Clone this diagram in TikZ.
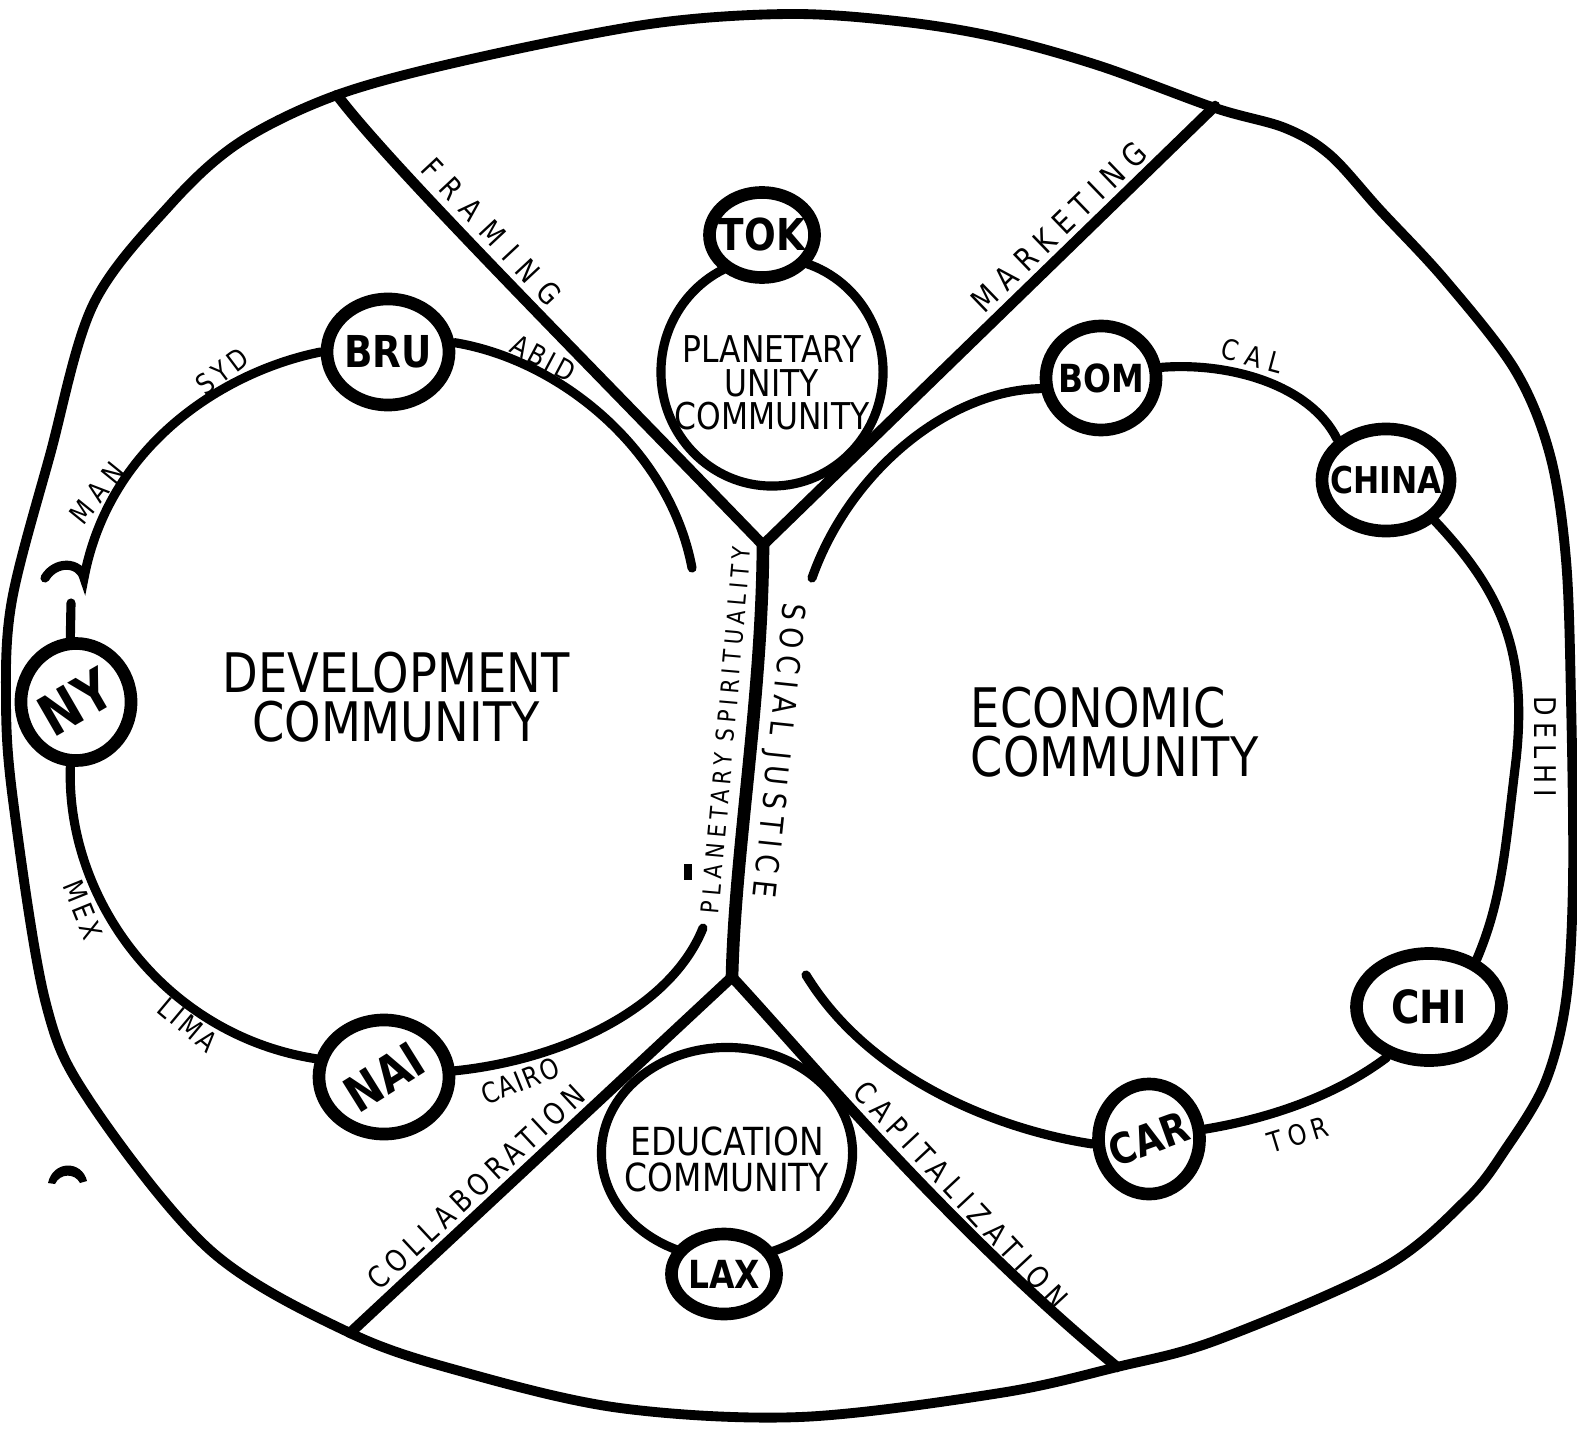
\documentclass[tikz,border=0pt]{standalone}
\usepackage{fontspec}
\setmainfont{DejaVu Sans}[FakeStretch=0.85]
\usetikzlibrary{shapes.geometric}

\begin{document}
\begin{tikzpicture}[
        x=0.01cm, y=-0.01cm,
        every node/.style={inner sep=0pt, align=center},
        city/.style={draw, ellipse, line width=3.6pt, fill=white},
        blob/.style={draw, ellipse, line width=2.6pt},
        cname/.style={font=\bfseries\fontsize{#1}{#1}\selectfont},
        commu/.style={font=\fontsize{15.5}{14}\selectfont},
        commsmall/.style={font=\fontsize{10.5}{9.6}\selectfont},
        lbl/.style 2 args={font=\fontsize{#1}{#1}\selectfont\addfontfeatures{LetterSpace=#2}},
        ring/.style={line width=2.6pt, line cap=round},
        wall/.style={line width=3pt, line cap=round, line join=round},
        trunk/.style={line width=3.6pt, line cap=round},
        rim/.style={line width=2.8pt}
    ]
    \useasboundingbox (0,0) rectangle (1577,1428);

    % outer rim
    \draw[rim] plot[smooth cycle, tension=0.55] coordinates {
        (790,14) (905,22) (1000,38) (1100,66) (1215,108) (1285,128) (1330,155)
        (1380,210) (1445,280) (1515,370) (1550,455) (1566,560) (1571,700)
        (1573,880) (1566,1000) (1545,1083) (1505,1150) (1466,1200) (1383,1268)
        (1217,1340) (1117,1367) (1000,1393) (800,1417) (620,1408) (467,1373)
        (350,1333) (210,1250) (89,1100) (45,1000) (13,800) (6,700) (12,600)
        (50,455) (93,305) (170,205) (240,142) (337,95) (467,60) (650,24)};

    % dividers
    \coordinate (framing) at (337,95);
    \coordinate (marketing) at (1215,106);
    \coordinate (collab) at (350,1333);
    \coordinate (capital) at (1117,1367);
    \coordinate (ytop) at (763,545);
    \coordinate (ybot) at (732,977);

    \draw[wall] (framing) .. controls (390,165) and (560,335) .. (ytop) -- (marketing);
    \draw[trunk] (ytop) .. controls (762,700) and (735,850) .. (ybot);
    \draw[wall] (collab) -- (ybot) .. controls (800,1050) and (950,1230) .. (capital);

    % cities
    \node[city, minimum width=1.10cm, minimum height=1.17cm,
          label={[cname=16, rotate=30]center:NY}] (ny) at (76,702) {};
    \node[city, minimum width=1.22cm, minimum height=1.06cm,
          label={[cname=12.5]center:BRU}] (bru) at (388,352) {};
    \node[city, minimum width=1.30cm, minimum height=1.14cm,
          label={[cname=14, rotate=32]center:NAI}] (nai) at (384,1077) {};
    \node[city, minimum width=1.10cm, minimum height=1.04cm,
          label={[cname=11]center:BOM}] (bom) at (1101,378) {};
    \node[city, minimum width=1.28cm, minimum height=1.02cm,
          label={[cname=10.5]center:CHINA}] (china) at (1386,480) {};
    \node[city, minimum width=1.45cm, minimum height=1.07cm,
          label={[cname=13]center:CHI}] (chi) at (1429,1007) {};
    \node[city, minimum width=1.01cm, minimum height=1.10cm,
          label={[cname=12, rotate=20]center:CAR}] (car) at (1149,1139) {};

    % development ring
    \coordinate (nygap) at (71,603);
    \coordinate (devend) at (84,578);
    \coordinate (devne) at (692,568);
    \coordinate (devse) at (703,928);
    \draw[ring] (ny.95) -- (nygap);
    \draw[ring] (bru.180) .. controls (230,370) and (110,440) .. (devend)
        .. controls (80,562) and (56,560) .. (45,578);
    \draw[ring] (bru.8) .. controls (560,360) and (670,450) .. (devne);
    \draw[ring] (ny.265) .. controls (66,900) and (165,1035) .. (nai.165);
    \draw[ring] (nai.5) .. controls (560,1060) and (670,1010) .. (devse);

    % economic ring
    \coordinate (econnw) at (812,578);
    \coordinate (econe) at (1516,760);
    \coordinate (econsw) at (806,975);
    \draw[ring] (econnw) .. controls (850,470) and (950,390) .. (bom.190);
    \draw[ring] (bom.10) .. controls (1230,362) and (1310,385) .. (china.140);
    \draw[ring] (china.-40) .. controls (1500,590) and (1528,650) .. (econe)
        .. controls (1505,850) and (1502,900) .. (chi.45);
    \draw[ring] (chi.230) .. controls (1330,1100) and (1260,1120) .. (car.10);
    \draw[ring] (car.185) .. controls (1000,1130) and (870,1080) .. (econsw);

    % small communities
    \node[blob, minimum width=2.22cm, minimum height=2.28cm,
          label={[commsmall, yshift=-0.11cm]center:PLANETARY\\UNITY\\COMMUNITY}] (unity) at (772,372) {};
    \node[city, minimum width=1.05cm, minimum height=0.85cm,
          label={[cname=12.5]center:TOK}] (tok) at (762,235) {};
    \node[blob, minimum width=2.51cm, minimum height=2.11cm,
          label={[font=\fontsize{11}{10.2}\selectfont, yshift=-0.06cm]center:EDUCATION\\COMMUNITY}] (edu) at (727,1153) {};
    \node[city, minimum width=1.05cm, minimum height=0.80cm,
          label={[cname=11]center:LAX}] (lax) at (724,1274) {};

    % big communities
    \node[commu] (devcom) at (396,697) {DEVELOPMENT\\COMMUNITY};
    \node[commu, align=left, anchor=west] (econcom) at (970,732) {ECONOMIC\\COMMUNITY};

    % ring labels
    \node[lbl={8}{24}, rotate=51] (man) at (97,493) {MAN};
    \node[lbl={8}{15}, rotate=37] (syd) at (222,371) {SYD};
    \node[lbl={8}{12}, rotate=-28] (abid) at (543,358) {ABID};
    \node[lbl={8}{15}, rotate=-68] (mex) at (83,910) {MEX};
    \node[lbl={8}{11}, rotate=-40] (lima) at (188,1025) {LIMA};
    \node[lbl={8}{5}, rotate=22] (cairo) at (520,1081) {CAIRO};
    \node[lbl={8}{28}, rotate=-15] (cal) at (1252,356) {CAL};
    \node[lbl={8.5}{20}, rotate=-90] (delhi) at (1545,747) {DELHI};
    \node[lbl={8}{19}, rotate=17] (tor) at (1298,1135) {TOR};

    % divider labels
    \node[lbl={8.5}{40}, rotate=-47] (framinglbl) at (492,232) {FRAMING};
    \node[lbl={9}{27}, rotate=44] (marketinglbl) at (1059,227) {MARKETING};
    \node[lbl={8.5}{19}, rotate=43] (collablbl) at (476,1187) {COLLABORATION};
    \node[lbl={8.5}{24}, rotate=-47] (capitallbl) at (961,1195) {CAPITALIZATION};
    \node[lbl={7}{21}, rotate=85] (spirit) at (726,730) {PLANETARY SPIRITUALITY};
    \node[lbl={9}{22}, rotate=-96] (justice) at (777,750) {SOCIAL JUSTICE};

    % stray pen marks
    \fill (48,1183) .. controls (53,1160) and (82,1160) .. (87,1181)
        -- (80,1183) .. controls (75,1173) and (60,1173) .. (55,1184) -- cycle;
    \draw[line width=2.4pt] (688,864) -- (688,880);

\end{tikzpicture}
\end{document}
